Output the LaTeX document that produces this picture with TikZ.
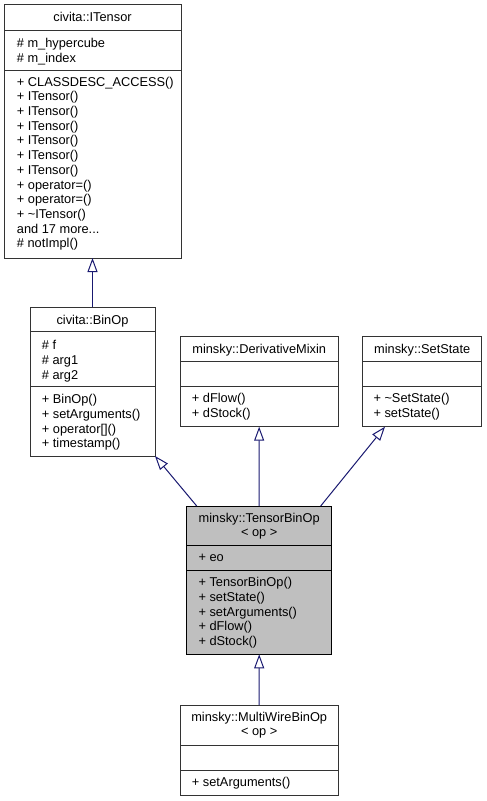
\documentclass[tikz,border=0pt]{standalone}
\usepackage{fontspec}
\setmainfont{Liberation Sans}
\usetikzlibrary{arrows.meta,calc}
\definecolor{edgeblue}{HTML}{191970}
\definecolor{boxgray}{HTML}{BFBFBF}
\definecolor{boxline}{HTML}{333333}
\begin{document}
\begin{tikzpicture}[x=1pt,y=-1pt,
  cls/.style={draw=boxline, line width=1pt, inner sep=0pt, outer sep=0pt, anchor=north west, rectangle},
  divl/.style={draw=boxline, line width=1pt},
  txt/.style={anchor=north west, inner sep=0pt, align=left, font=\fontsize{12.8}{14.7}\selectfont},
  ttl/.style={anchor=base, inner sep=0pt, font=\fontsize{12.8}{14.7}\selectfont},
  ttl2/.style={anchor=north, inner sep=0pt, align=center, font=\fontsize{12.8}{14.7}\selectfont},
  inh/.style={draw=edgeblue, line width=1pt, -{Triangle[open, length=14pt, width=10pt, line width=1pt]}}]
\useasboundingbox (0,0) rectangle (487,801);

% civita::ITensor
\node[cls, minimum width=177pt, minimum height=254pt] (itensor) at (4,4) {};
\draw[divl] ($(itensor.north west)+(0,26)$) -- ($(itensor.north east)+(0,26)$);
\draw[divl] ($(itensor.north west)+(0,66.7)$) -- ($(itensor.north east)+(0,66.7)$);
\node[ttl] (itensorT) at (92.5,21.5) {civita::ITensor};
\node[txt] (itensorA) at (16.7,36.9) {\strut\# m\_hypercube\\\# m\_index};
\node[txt] (itensorM) at (16.7,75.7) {\strut+ CLASSDESC\_ACCESS()\\+ ITensor()\\+ ITensor()\\+ ITensor()\\+ ITensor()\\+ ITensor()\\+ ITensor()\\+ operator=()\\+ operator=()\\+ \textasciitilde ITensor()\\and 17 more...\\\# notImpl()};

% civita::BinOp
\node[cls, minimum width=125pt, minimum height=148.7pt] (binop) at (30,307.3) {};
\draw[divl] ($(binop.north west)+(0,24.4)$) -- ($(binop.north east)+(0,24.4)$);
\draw[divl] ($(binop.north west)+(0,79.4)$) -- ($(binop.north east)+(0,79.4)$);
\node[ttl] (binopT) at (92.5,324.5) {civita::BinOp};
\node[txt] (binopA) at (41.7,339.2) {\strut\# f\\\# arg1\\\# arg2};
\node[txt] (binopM) at (41.7,393.2) {\strut+ BinOp()\\+ setArguments()\\+ operator[]()\\+ timestamp()};

% minsky::DerivativeMixin
\node[cls, minimum width=158.3pt, minimum height=90pt] (deriv) at (180,336.7) {};
\draw[divl] ($(deriv.north west)+(0,25)$) -- ($(deriv.north east)+(0,25)$);
\draw[divl] ($(deriv.north west)+(0,50)$) -- ($(deriv.north east)+(0,50)$);
\node[ttl] (derivT) at (259.2,353.5) {minsky::DerivativeMixin};
\node[txt] (derivM) at (191.7,392.5) {\strut+ dFlow()\\+ dStock()};

% minsky::SetState
\node[cls, minimum width=119pt, minimum height=90pt] (setstate) at (362.7,336.7) {};
\draw[divl] ($(setstate.north west)+(0,25)$) -- ($(setstate.north east)+(0,25)$);
\draw[divl] ($(setstate.north west)+(0,50)$) -- ($(setstate.north east)+(0,50)$);
\node[ttl] (setstateT) at (422.2,353.5) {minsky::SetState};
\node[txt] (setstateM) at (373.3,392.5) {\strut+ \textasciitilde SetState()\\+ setState()};

% minsky::TensorBinOp< op >
\node[cls, fill=boxgray, draw=black, minimum width=145pt, minimum height=148.3pt] (tensor) at (186.7,506) {};
\draw[divl, draw=black] ($(tensor.north west)+(0,39.7)$) -- ($(tensor.north east)+(0,39.7)$);
\draw[divl, draw=black] ($(tensor.north west)+(0,64.7)$) -- ($(tensor.north east)+(0,64.7)$);
\node[ttl2] (tensorT) at (259.2,511.7) {\strut minsky::TensorBinOp\\< op >};
\node[txt] (tensorA) at (198.3,551.4) {\strut+ eo};
\node[txt] (tensorM) at (198.3,576.4) {\strut+ TensorBinOp()\\+ setState()\\+ setArguments()\\+ dFlow()\\+ dStock()};

% minsky::MultiWireBinOp< op >
\node[cls, minimum width=158.3pt, minimum height=90pt] (multi) at (180,705) {};
\draw[divl] ($(multi.north west)+(0,40)$) -- ($(multi.north east)+(0,40)$);
\draw[divl] ($(multi.north west)+(0,65)$) -- ($(multi.north east)+(0,65)$);
\node[ttl2] (multiT) at (259.2,710.7) {\strut minsky::MultiWireBinOp\\< op >};
\node[txt] (multiM) at (191.7,775.7) {\strut+ setArguments()};

% inheritance connectors
\draw[inh] (binop.north) -- (itensor.south);
\draw[inh] ($(tensor.north west)+(10,0)$) -- (binop.south east);
\draw[inh] (tensor.north) -- (deriv.south);
\draw[inh] ($(tensor.north east)+(-11,0)$) -- ($(setstate.south west)+(22.3,0)$);
\draw[inh] (multi.north) -- (tensor.south);
\end{tikzpicture}
\end{document}
